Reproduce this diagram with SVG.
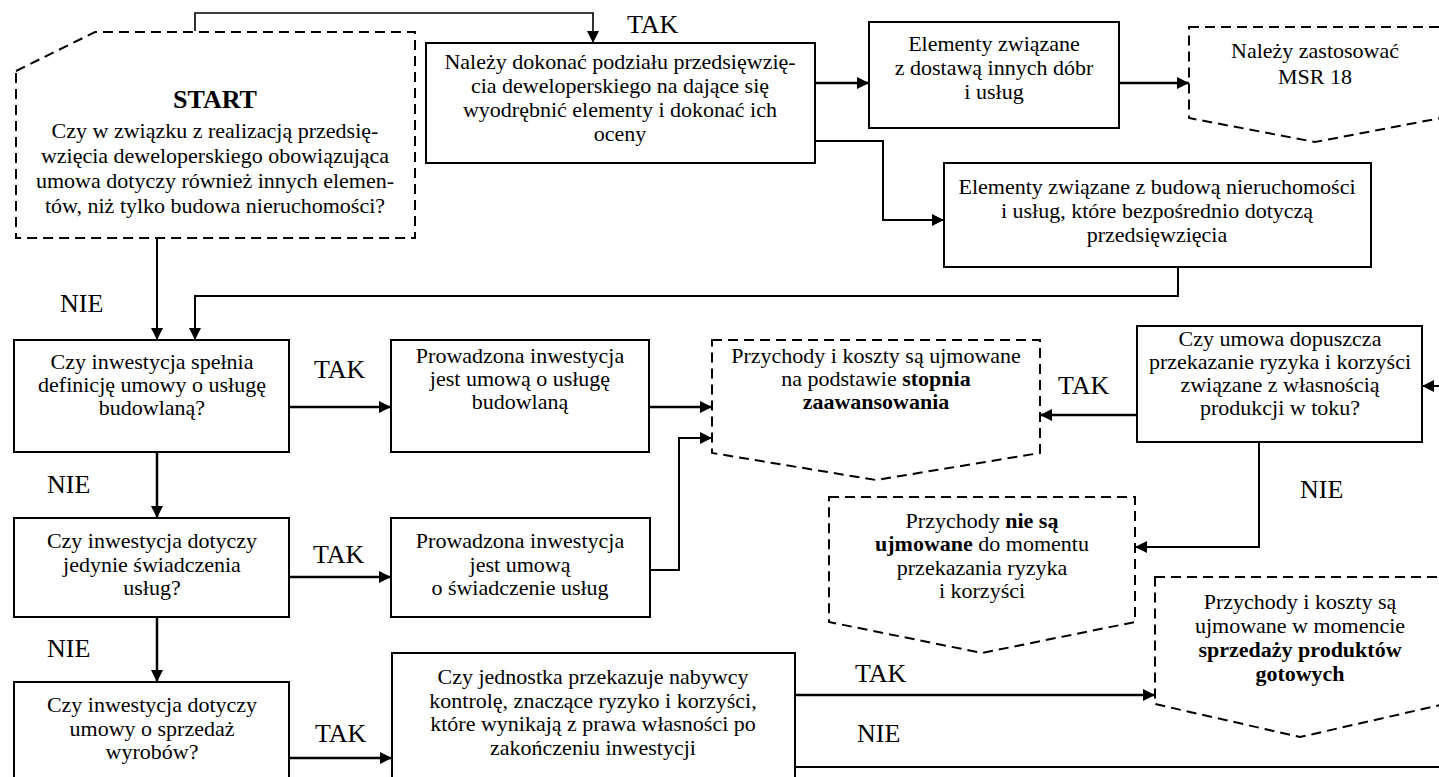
<svg xmlns="http://www.w3.org/2000/svg" width="1439" height="777" viewBox="0 0 1439 777">
<style>
.t{font-family:"Liberation Serif","Times New Roman",serif;font-size:22px;fill:#000;text-anchor:middle}
.lbl{font-family:"Liberation Serif","Times New Roman",serif;font-size:26px;fill:#000}
.b{font-weight:bold}
.box{fill:#fff;stroke:#000;stroke-width:2}
.dash{fill:#fff;stroke:#000;stroke-width:2;stroke-dasharray:10 6}
.c{fill:none;stroke:#000;stroke-width:2}
.thick{stroke-width:2.5}
.a{marker-end:url(#ah)}
</style>
<defs>
<marker id="ah" markerUnits="userSpaceOnUse" markerWidth="13" markerHeight="12" refX="12" refY="6" orient="auto">
<path d="M0,0 L12,6 L0,12 Z" fill="#000"/>
</marker>
</defs>
<rect width="1439" height="777" fill="#fff"/>

<g id="connectors">
<path class="c a" d="M195,31 V13 H593 V43" style="stroke-width:1.6"/>
<path class="c thick a" d="M815,83 H869"/>
<path class="c a" d="M815,141 H883 V220 H944"/>
<path class="c thick a" d="M1119,83 H1189"/>
<path class="c a" d="M1178,267 V296 H195 V340"/>
<path class="c a" d="M157,238 V340"/>
<path class="c thick a" d="M289,407 H391"/>
<path class="c thick a" d="M649,407 H712"/>
<path class="c a" d="M650,570 H679 V438 H712"/>
<path class="c thick a" d="M1137,415 H1040"/>
<path class="c a" d="M1445,386 H1422"/>
<path class="c a" d="M1259,442 V547 H1135"/>
<path class="c thick a" d="M157,452 V518"/>
<path class="c thick a" d="M289,577 H391"/>
<path class="c thick a" d="M157,617 V682"/>
<path class="c thick a" d="M289,758 H392"/>
<path class="c thick a" d="M795,695 H1155"/>
<path class="c" d="M795,767 H1439"/>
<text class="lbl" x="627" y="33">TAK</text>
<text class="lbl" x="60" y="312">NIE</text>
<text class="lbl" x="314" y="378">TAK</text>
<text class="lbl" x="47" y="493">NIE</text>
<text class="lbl" x="313" y="563">TAK</text>
<text class="lbl" x="47" y="657">NIE</text>
<text class="lbl" x="315" y="742">TAK</text>
<text class="lbl" x="1058" y="394">TAK</text>
<text class="lbl" x="1300" y="498">NIE</text>
<text class="lbl" x="855" y="682">TAK</text>
<text class="lbl" x="857" y="742">NIE</text>
</g>

<g id="start">
<path class="dash" d="M16,71 L95,32 L415,32 L415,238 L16,238 Z"/>
<text class="t b" x="215" y="108" style="font-size:26px">START</text>
<text class="t" x="215" y="138">Czy w związku z realizacją przedsię-</text>
<text class="t" x="215" y="163">wzięcia deweloperskiego obowiązująca</text>
<text class="t" x="215" y="188">umowa dotyczy również innych elemen-</text>
<text class="t" x="215" y="213">tów, niż tylko budowa nieruchomości?</text>
</g>

<g id="podzial">
<rect class="box" x="426" y="43" width="389" height="120"/>
<text class="t" x="620" y="69">Należy dokonać podziału przedsięwzię-</text>
<text class="t" x="620" y="93">cia deweloperskiego na dające się</text>
<text class="t" x="620" y="117">wyodrębnić elementy i dokonać ich</text>
<text class="t" x="620" y="141">oceny</text>
</g>

<g id="dostawa">
<rect class="box" x="869" y="22" width="250" height="106"/>
<text class="t" x="994" y="51">Elementy związane</text>
<text class="t" x="994" y="75">z dostawą innych dóbr</text>
<text class="t" x="994" y="99">i usług</text>
</g>

<g id="msr18">
<path class="dash" d="M1189,27 L1441,27 L1441,118 L1315,142 L1189,118 Z"/>
<text class="t" x="1315" y="58">Należy zastosować</text>
<text class="t" x="1315" y="84">MSR 18</text>
</g>

<g id="budowa">
<rect class="box" x="944" y="163" width="427" height="104"/>
<text class="t" x="1157" y="194">Elementy związane z budową nieruchomości</text>
<text class="t" x="1157" y="218">i usług, które bezpośrednio dotyczą</text>
<text class="t" x="1157" y="242">przedsięwzięcia</text>
</g>

<g id="q-budowlana">
<rect class="box" x="14" y="340" width="275" height="112"/>
<text class="t" x="152" y="369">Czy inwestycja spełnia</text>
<text class="t" x="152" y="392">definicję umowy o usługę</text>
<text class="t" x="152" y="415">budowlaną?</text>
</g>

<g id="umowa-budowlana">
<rect class="box" x="391" y="340" width="258" height="112"/>
<text class="t" x="520" y="363">Prowadzona inwestycja</text>
<text class="t" x="520" y="386">jest umową o usługę</text>
<text class="t" x="520" y="409">budowlaną</text>
</g>

<g id="stopien">
<path class="dash" d="M712,340 L1040,340 L1040,453 L876,480 L712,453 Z"/>
<text class="t" x="876" y="363">Przychody i koszty są ujmowane</text>
<text class="t" x="876" y="386">na podstawie <tspan class="b">stopnia</tspan></text>
<text class="t b" x="876" y="409">zaawansowania</text>
</g>

<g id="q-ryzyko">
<rect class="box" x="1137" y="326" width="285" height="116"/>
<text class="t" x="1280" y="346">Czy umowa dopuszcza</text>
<text class="t" x="1280" y="369">przekazanie ryzyka i korzyści</text>
<text class="t" x="1280" y="392">związane z własnością</text>
<text class="t" x="1280" y="415">produkcji w toku?</text>
</g>

<g id="nie-ujmowane">
<path class="dash" d="M829,497 L1135,497 L1135,622 L982,653 L829,622 Z"/>
<text class="t" x="982" y="528">Przychody <tspan class="b">nie są</tspan></text>
<text class="t" x="982" y="551"><tspan class="b">ujmowane</tspan> do momentu</text>
<text class="t" x="982" y="575">przekazania ryzyka</text>
<text class="t" x="982" y="598">i korzyści</text>
</g>

<g id="sprzedaz-gotowych">
<path class="dash" d="M1155,577 L1445,577 L1445,704 L1300,737 L1155,704 Z"/>
<text class="t" x="1300" y="609">Przychody i koszty są</text>
<text class="t" x="1300" y="633">ujmowane w momencie</text>
<text class="t b" x="1300" y="657">sprzedaży produktów</text>
<text class="t b" x="1300" y="681">gotowych</text>
</g>

<g id="q-uslugi">
<rect class="box" x="14" y="518" width="275" height="99"/>
<text class="t" x="152" y="548">Czy inwestycja dotyczy</text>
<text class="t" x="152" y="572">jedynie świadczenia</text>
<text class="t" x="152" y="595">usług?</text>
</g>

<g id="umowa-uslugi">
<rect class="box" x="391" y="518" width="259" height="99"/>
<text class="t" x="520" y="548">Prowadzona inwestycja</text>
<text class="t" x="520" y="572">jest umową</text>
<text class="t" x="520" y="595">o świadczenie usług</text>
</g>

<g id="q-sprzedaz">
<rect class="box" x="14" y="682" width="275" height="110"/>
<text class="t" x="152" y="712">Czy inwestycja dotyczy</text>
<text class="t" x="152" y="736">umowy o sprzedaż</text>
<text class="t" x="152" y="759">wyrobów?</text>
</g>

<g id="q-kontrola">
<rect class="box" x="392" y="653" width="403" height="140"/>
<text class="t" x="593" y="684">Czy jednostka przekazuje nabywcy</text>
<text class="t" x="593" y="708">kontrolę, znaczące ryzyko i korzyści,</text>
<text class="t" x="593" y="731">które wynikają z prawa własności po</text>
<text class="t" x="593" y="755">zakończeniu inwestycji</text>
</g>
</svg>
